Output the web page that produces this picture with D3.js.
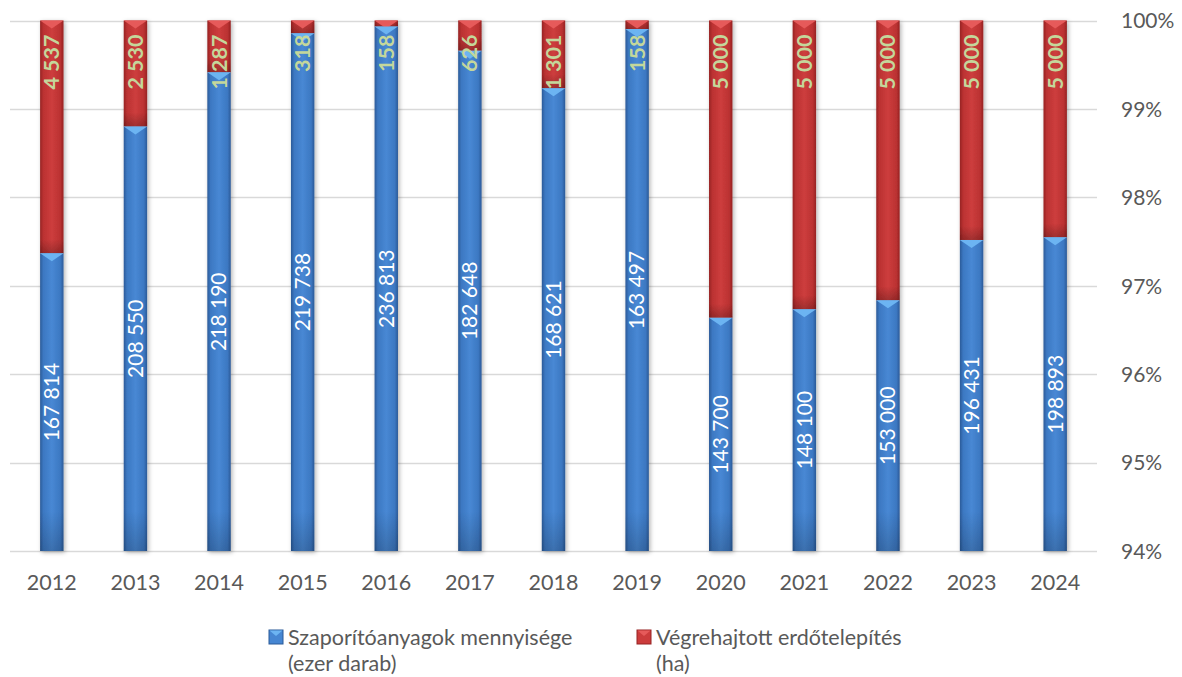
<!DOCTYPE html>
<html>
<head>
<meta charset="utf-8">
<script src="https://cdn.jsdelivr.net/npm/d3@7"></script>
<style>
  html, body { margin: 0; padding: 0; background: #fff; }
  svg { display: block; font-family: Lato, "Open Sans", sans-serif; }
</style>
</head>
<body>
<svg id="chart" width="1182" height="677"></svg>
<script>
// ---- data ----
const years = ["2012","2013","2014","2015","2016","2017","2018","2019","2020","2021","2022","2023","2024"];
const seedlings = [167814, 208550, 218190, 219738, 236813, 182648, 168621, 163497, 143700, 148100, 153000, 196431, 198893];
const afforestation = [4537, 2530, 1287, 318, 158, 626, 1301, 158, 5000, 5000, 5000, 5000, 5000];
const yTicks = [0.94, 0.95, 0.96, 0.97, 0.98, 0.99, 1.00];
const seriesNames = [["Szaporítóanyagok mennyisége", "(ezer darab)"], ["Végrehajtott erdőtelepítés", "(ha)"]];

const rows = years.map((y, i) => {
  const total = seedlings[i] + afforestation[i];
  return { year: y, s: seedlings[i], a: afforestation[i], share: seedlings[i] / total };
});

const svg = d3.select("#chart");
const fmt = d3.formatLocale({ decimal: ",", thousands: " ", grouping: [3], currency: ["", ""] }).format(",d");
const pct = d3.format(".0%");

const x = d3.scaleBand().domain(years).range([10, 1097]).paddingInner(0.72).paddingOuter(0.36);
const y = d3.scaleLinear().domain([0.94, 1]).range([551, 20.5]);

// defs
const defs = svg.append("defs");
function hGrad(id, edge, mid, center) {
  const g = defs.append("linearGradient").attr("id", id).attr("x1", 0).attr("x2", 1).attr("y1", 0).attr("y2", 0);
  [[0, edge], [0.14, mid], [0.5, center], [0.86, mid], [1, edge]].forEach(([o, c]) =>
    g.append("stop").attr("offset", o).attr("stop-color", c));
}
hGrad("gBlue", "#2b5a98", "#3c78c2", "#4888d4");
hGrad("gRed", "#962222", "#bb3232", "#cd3d3d");
const vg = defs.append("linearGradient").attr("id", "gShade").attr("x1", 0).attr("x2", 0).attr("y1", 0).attr("y2", 1);
vg.append("stop").attr("offset", 0).attr("stop-color", "#000").attr("stop-opacity", 0);
vg.append("stop").attr("offset", 1).attr("stop-color", "#000").attr("stop-opacity", 0.22);
const f = defs.append("filter").attr("id", "shadow").attr("x", "-50%").attr("y", "-5%").attr("width", "200%").attr("height", "110%");
f.append("feDropShadow").attr("dx", 1.5).attr("dy", 1.5).attr("stdDeviation", 2).attr("flood-color", "#000").attr("flood-opacity", 0.3);

// gridlines
svg.append("g").selectAll("line").data(yTicks).join("line")
  .attr("x1", 10).attr("x2", 1097)
  .attr("y1", d => Math.round(y(d)) + 0.5).attr("y2", d => Math.round(y(d)) + 0.5)
  .attr("stroke", "#d9d9d9").attr("stroke-width", 1.3);

// right axis
const yAxis = d3.axisRight(y).tickValues(yTicks).tickFormat(pct).tickSize(0).tickPadding(0);
const ya = svg.append("g").attr("transform", "translate(1121,0)").call(yAxis);
ya.select(".domain").remove();
ya.selectAll("text").attr("font-size", 21).attr("fill", "#595959").attr("font-family", "Lato, sans-serif").attr("dy", "0.35em");

// bottom axis
const xAxis = d3.axisBottom(x).tickSize(0).tickPadding(0);
const xa = svg.append("g").attr("transform", "translate(0,575)").call(xAxis);
xa.select(".domain").remove();
xa.selectAll("text").attr("font-size", 21.5).attr("fill", "#595959").attr("font-family", "Lato, sans-serif").attr("dy", "0.71em");

// bars
const bw = x.bandwidth();
const bars = svg.append("g").selectAll("g").data(rows).join("g").attr("filter", "url(#shadow)");
// blue segment
bars.append("rect")
  .attr("x", d => x(d.year)).attr("width", bw)
  .attr("y", d => y(d.share)).attr("height", d => y(0.94) - y(d.share))
  .attr("fill", "url(#gBlue)");
bars.append("rect")
  .attr("x", d => x(d.year)).attr("width", bw)
  .attr("y", d => y(0.94) - 40).attr("height", 40)
  .attr("fill", "url(#gShade)").attr("opacity", 0.8);
// red segment
bars.append("rect")
  .attr("x", d => x(d.year)).attr("width", bw)
  .attr("y", y(1)).attr("height", d => y(d.share) - y(1))
  .attr("fill", "url(#gRed)");
bars.append("rect")
  .attr("x", d => x(d.year)).attr("width", bw)
  .attr("y", d => Math.max(y(1), y(d.share) - 14)).attr("height", d => Math.min(14, y(d.share) - y(1)))
  .attr("fill", "url(#gShade)");
// bevel triangles
bars.append("path")
  .attr("d", d => { const x0 = x(d.year), t = y(1); return `M${x0},${t}L${x0 + bw},${t}L${x0 + bw / 2},${t + 8}Z`; })
  .attr("fill", "#e65a5a");
bars.append("path")
  .attr("d", d => { const x0 = x(d.year), t = y(d.share); return `M${x0},${t}L${x0 + bw},${t}L${x0 + bw / 2},${t + 8}Z`; })
  .attr("fill", "#6cb4f2");

// labels
const lbl = svg.append("g");
lbl.selectAll("text.s").data(rows).join("text").attr("class", "s")
  .attr("transform", d => `translate(${x(d.year) + bw / 2},${(y(0.94) + y(d.share)) / 2}) rotate(-90)`)
  .attr("text-anchor", "middle").attr("dy", "0.35em")
  .attr("font-size", 21).attr("fill", "#ffffff")
  .text(d => fmt(d.s));
lbl.selectAll("text.a").data(rows).join("text").attr("class", "a")
  .attr("transform", d => `translate(${x(d.year) + bw / 2},${y(1) + 14}) rotate(-90)`)
  .attr("text-anchor", "end").attr("dy", "0.35em")
  .attr("font-size", 21.5).attr("font-weight", 700).attr("fill", "#c4d79b")
  .text(d => fmt(d.a));

// legend
const legend = svg.append("g");
const lx = [269, 637];
const lcol = [["#2b5a98", "#4686d2", "#6cb4f2"], ["#962222", "#cc3c3c", "#e65a5a"]];
seriesNames.forEach((nm, i) => {
  const g = legend.append("g").attr("transform", `translate(${lx[i]},630)`);
  g.append("rect").attr("width", 14).attr("height", 14).attr("fill", lcol[i][1]).attr("stroke", lcol[i][0]).attr("stroke-width", 1);
  g.append("path").attr("d", "M0.5,0.5L13.5,0.5L7,6Z").attr("fill", lcol[i][2]);
  g.append("text").attr("font-size", 21.5).attr("fill", "#595959")
    .attr("x", 19).attr("y", 14.5).text(nm[0]);
  g.append("text").attr("font-size", 21.5).attr("fill", "#595959")
    .attr("x", 19).attr("y", 41).text(nm[1]);
});
</script>
</body>
</html>
